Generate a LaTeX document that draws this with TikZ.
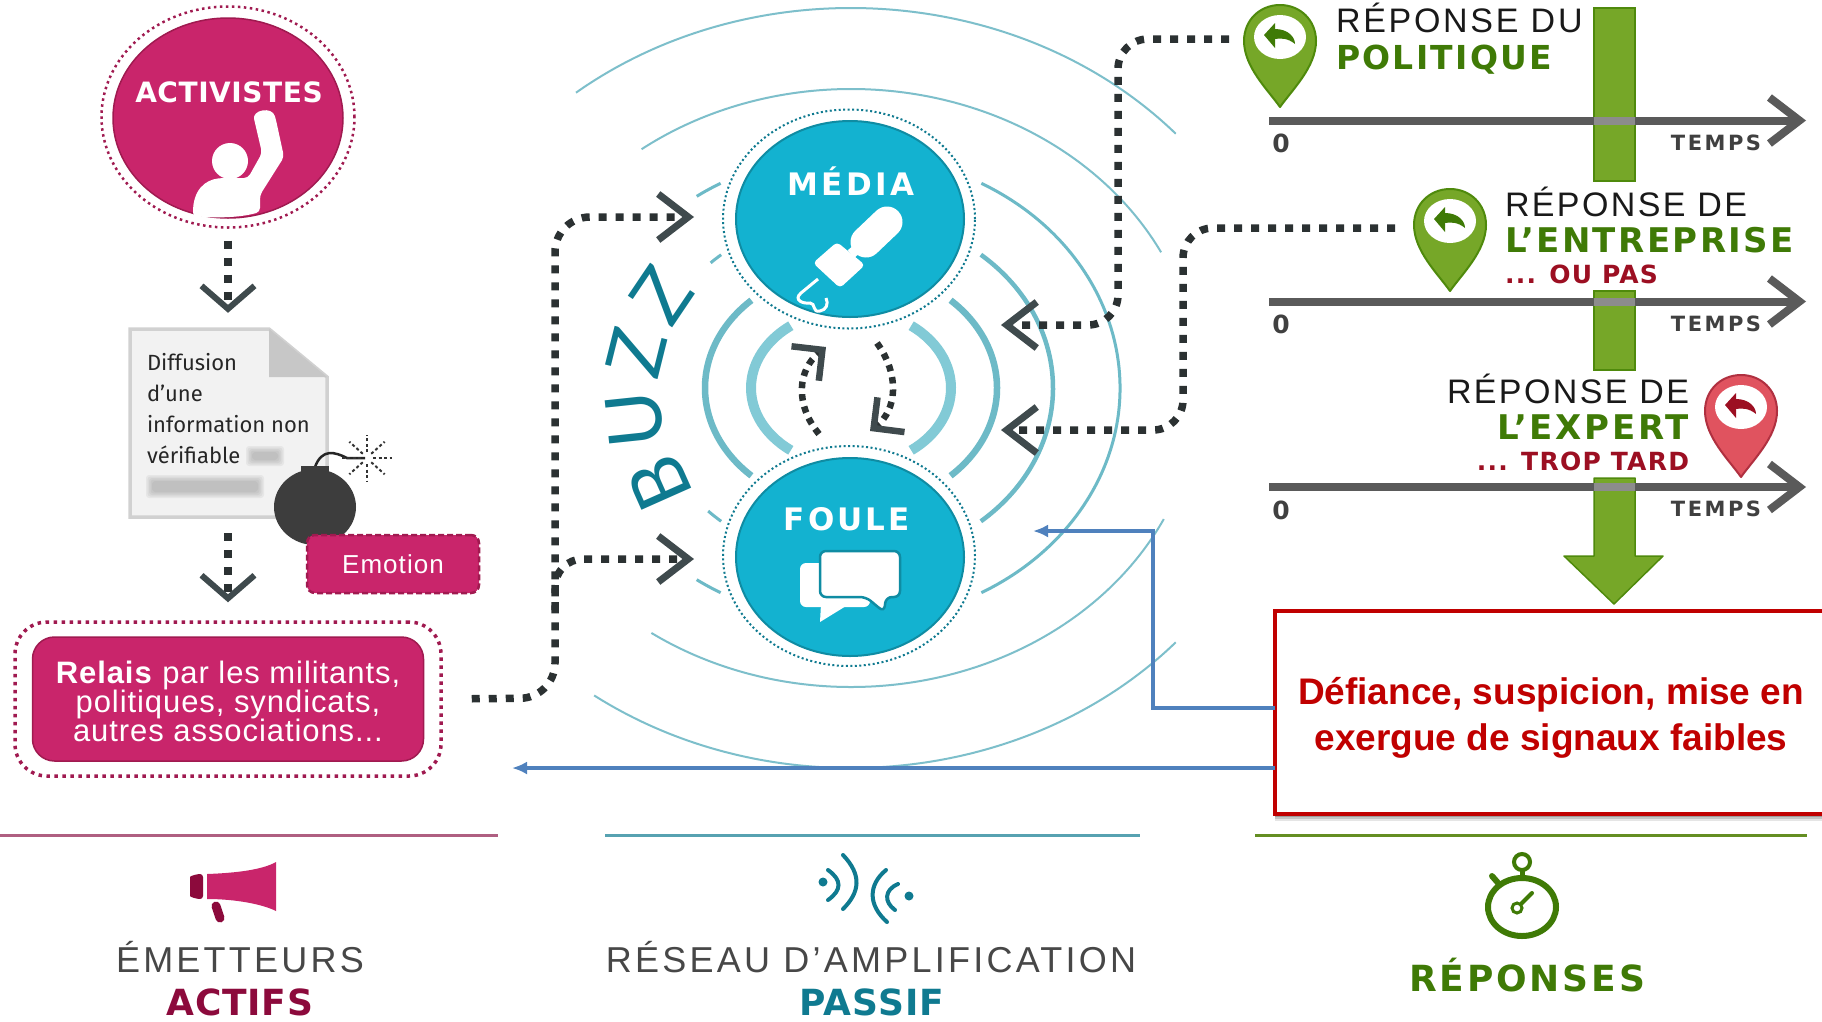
\documentclass[tikz,border=0pt]{standalone}
\usepackage{fontspec}
\setmainfont{Liberation Sans}
\newfontfamily\dvb{DejaVu Sans}
\newfontfamily\lato{Lato}
\newfontfamily\fira{Fira Sans}
\usetikzlibrary{shapes.geometric,arrows.meta,calc}
\definecolor{mag}{HTML}{C9256B}
\definecolor{magd}{HTML}{A01A50}
\definecolor{magt}{HTML}{8C0A3C}
\definecolor{blu}{HTML}{13B2D0}
\definecolor{blud}{HTML}{0F8CA3}
\definecolor{tealt}{HTML}{0F7A90}
\definecolor{arc1}{HTML}{82CAD6}
\definecolor{arc2}{HTML}{6DBAC7}
\definecolor{arc3}{HTML}{7DBFCB}
\definecolor{chevc}{HTML}{3F4A4D}
\definecolor{dotc}{HTML}{2B3132}
\definecolor{gre}{HTML}{76A728}
\definecolor{gred}{HTML}{4F8A0C}
\definecolor{gret}{HTML}{3F7A06}
\definecolor{redp}{HTML}{E0535F}
\definecolor{redd}{HTML}{B03040}
\definecolor{redt}{HTML}{9C0F22}
\definecolor{axisc}{HTML}{5A5A5A}
\definecolor{boxr}{HTML}{C00000}
\definecolor{arrb}{HTML}{4F81BD}
\newcommand\sized[1]{\fontsize{#1}{#1}\selectfont}
\newcommand\lsp[1]{\addfontfeature{LetterSpace=#1}}
\newcommand\wide[1]{\dvb\bfseries\sized{#1}}
% reply pin: centre x, top y, fill, border, arrow colour
\newcommand\mypin[5]{%
 \begin{scope}[shift={(#1,#2)}]
  \draw[fill=#3,draw=#4,line width=2pt,line join=round]
    (0,102) .. controls (-12,85) and (-36,62) .. (-36,36)
    .. controls (-36,15) and (-20,0) .. (0,0)
    .. controls (20,0) and (36,15) .. (36,36)
    .. controls (36,62) and (12,85) .. (0,102) -- cycle;
  \fill[white] (0,32) ellipse [x radius=26,y radius=22];
  \fill[#5,shift={(0,32)}] (-16,-2) -- (-5,-14) -- (-5,-8)
    .. controls (8,-8) and (15,0) .. (15,7)
    .. controls (8,1) and (0,1) .. (-5,2) -- (-5,11) -- cycle;
 \end{scope}}
% time axis: y
\newcommand\myaxis[2]{%
  \draw[axisline,-{Straight Barb[length=30pt,width=46pt,line width=8pt,color=axisc]}] (ax#2s) -- (ax#2e);
  \draw[line width=8pt,color=black!45] (1594,#1) -- (1635,#1);
  \node[axlab,anchor=center] (zero#2) at (1281,#1+23) {\wide{25}0};
  \node[axlab,anchor=base] (temps#2) at (1716,#1+29.5) {\wide{21}\lsp{12}TEMPS};}
\newcommand\blurbar[4]{%
  \foreach \e in {0,1.5,3,4.5,6}
   \fill[black!50,opacity=.10,rounded corners=3pt] (#1-\e,#2-\e) rectangle (#3+\e,#4+\e);}
\tikzset{
  dotline/.style={line width=7.5pt,color=dotc,dash pattern=on 8pt off 9pt},
  chevH/.tip={Straight Barb[length=30pt,width=46pt,line width=7pt,color=chevc]},
  chevV/.tip={Straight Barb[length=23pt,width=53pt,line width=6pt,color=chevc]},
  chevS/.tip={Straight Barb[length=22pt,width=44pt,line width=6.5pt,color=chevc]},
  axisline/.style={line width=8pt,color=axisc},
  axlab/.style={inner sep=0pt,text=black!75},
  ell/.style={ellipse,inner sep=0pt,outer sep=0pt},
  thinarc/.style={color=arc3,line width=2pt},
  txt/.style={inner sep=0pt,outer sep=0pt},
  blueline/.style={color=arrb,line width=4pt,-{Latex[length=15pt,width=13pt]}},
  grbar/.style={fill=gre,draw=gred,line width=1.5pt},
  rep/.style={txt,text=black!90},
  grt/.style={txt,text=gret},
  rdt/.style={txt,text=redt},
}
\begin{document}
\begin{tikzpicture}[x=1pt,y=-1pt]
\useasboundingbox (0,0) rectangle (1822,1021);
\clip (0,0) rectangle (1822,1021);
\fill[white] (0,0) rectangle (1822,1021);

% --- concentric arcs
\begin{scope}[shift={(851,388)}]
 \draw[thinarc] (-127:348 and 299) arc[start angle=-127,end angle=-27,x radius=348,y radius=299];
 \draw[thinarc] (26:348 and 299) arc[start angle=26,end angle=125,x radius=348,y radius=299];
 \draw[thinarc] (-129:437 and 380) arc[start angle=-129,end angle=-42,x radius=437,y radius=380];
 \draw[thinarc] (42:437 and 380) arc[start angle=42,end angle=126,x radius=437,y radius=380];
 \draw[color=arc2,line width=3pt] (-61:269 and 234) arc[start angle=-61,end angle=61,x radius=269,y radius=234];
 \draw[color=arc2,line width=3pt] (-125:269 and 234) arc[start angle=-125,end angle=-119,x radius=269,y radius=234];
 \draw[color=arc2,line width=3pt] (119:269 and 234) arc[start angle=119,end angle=125,x radius=269,y radius=234];
 \draw[color=arc2,line width=4.5pt] (-50:202 and 174) arc[start angle=-50,end angle=50,x radius=202,y radius=174];
 \draw[color=arc2,line width=3pt] (-134:202 and 174) arc[start angle=-134,end angle=-130,x radius=202,y radius=174];
 \draw[color=arc2,line width=3pt] (130:202 and 174) arc[start angle=130,end angle=135,x radius=202,y radius=174];
 \draw[color=arc2,line width=6.5pt] (-47:146 and 120) arc[start angle=-47,end angle=47,x radius=146,y radius=120];
 \draw[color=arc2,line width=6.5pt] (133:146 and 120) arc[start angle=133,end angle=227,x radius=146,y radius=120];
 \draw[color=arc1,line width=10pt] (-53:100 and 78) arc[start angle=-53,end angle=53,x radius=100,y radius=78];
 \draw[color=arc1,line width=10pt] (127:100 and 78) arc[start angle=127,end angle=233,x radius=100,y radius=78];
\end{scope}

% --- BUZZ
\node[txt,text=tealt,rotate=114] (bz1) at (660,483) {\lato\sized{76}B};
\node[txt,text=tealt,rotate=96] (bz2) at (635,420) {\lato\sized{76}U};
\node[txt,text=tealt,rotate=76] (bz3) at (637,353) {\lato\sized{76}Z};
\node[txt,text=tealt,rotate=56] (bz4) at (662,295) {\lato\sized{76}Z};

% --- Left column
\node[ell,minimum width=253pt,minimum height=221pt,draw=magd,line width=2.5pt,dash pattern=on 2.5pt off 3.5pt] (actout) at (228,117) {};
\node[ell,minimum width=230pt,minimum height=200pt,fill=mag,draw=magd,line width=1.5pt] (act) at (228,118) {};
\node[txt,text=white] (acttxt) at (229,92) {\wide{28}\lsp{2}ACTIVISTES};
\fill[white] (230,161) circle [radius=18];
\fill[white,rounded corners=4pt] (193,216) .. controls (193,190) and (205,180) .. (222,178) -- (248,178) -- (262,153) -- (255,123) .. controls (252,110) and (272,106) .. (276,120) -- (284,157) -- (260,195) -- (260,212) .. controls (238,218) and (215,218) .. (193,216) -- cycle;

\draw[fill=black!5,draw=black!18,line width=3.5pt] (130,329) -- (269,329) -- (327,377) -- (327,517) -- (130,517) -- cycle;
\fill[black!22] (269,329) -- (327,377) -- (269,377) -- cycle;
\node[minimum width=197pt,minimum height=188pt,inner sep=0pt] (doc) at (228,423) {};
\node[txt,anchor=base west,text=black!85] (d1) at (147,370) {\fira\sized{22}Diffusion};
\node[txt,anchor=base west,text=black!85] (d2) at (147,401) {\fira\sized{22}d’une};
\node[txt,anchor=base west,text=black!85] (d3) at (147,432) {\fira\sized{22}information non};
\node[txt,anchor=base west,text=black!85] (d4) at (147,463) {\fira\sized{22}vérifiable};
\blurbar{252}{452}{278}{460}
\blurbar{152}{481}{258}{492}

% bomb
\draw[color=black!85,line width=2.5pt] (315,467) .. controls (322,448) and (335,452) .. (347,458) -- (365,458);
\foreach \a in {0,45,...,315}
  \draw[color=black!80,line width=2pt,dash pattern=on 3pt off 2.5pt] ($(367,458)+(\a:6 and 6)$) -- ($(367,458)+(\a:25 and 23)$);
\fill[black!76] (301,466) rectangle (329,482);
\fill[black!76] (315,507) ellipse [x radius=41,y radius=38];
\node[minimum width=172pt,minimum height=58pt,fill=mag,draw=magd,line width=2.5pt,dash pattern=on 6pt off 3pt,rounded corners=8pt,inner sep=0pt,text=white] (emo) at (393,564) {\sized{26}\lsp{4}Emotion};

\node[minimum width=426pt,minimum height=154pt,draw=magd,line width=3.5pt,dash pattern=on 3.5pt off 4.5pt,rounded corners=32pt,inner sep=0pt] (relout) at (228,699) {};
\node[minimum width=391pt,minimum height=124pt,fill=mag,draw=magd,line width=1.5pt,rounded corners=22pt,inner sep=0pt] (rel) at (228,699) {};
\node[txt,text=white,align=center,font=\fontsize{31}{29}\selectfont\addfontfeature{LetterSpace=3}] (reltxt) at (228,701) {\textbf{Relais} par les militants,\\politiques, syndicats,\\autres associations...};

\draw[dotline,-chevV,shorten <=13pt,shorten >=16pt] (actout.south) -- (doc.north);
\draw[dotline,-chevV,shorten <=16pt,shorten >=18pt] (doc.south) -- (relout.north);

% --- Centre circles
\node[ell,minimum width=252pt,minimum height=219pt,fill=white,draw=tealt,line width=2pt,dash pattern=on 2pt off 2.5pt] (medout) at (849,219) {};
\node[ell,minimum width=228pt,minimum height=196pt,fill=blu,draw=blud,line width=2pt] (med) at (850,219) {};
\node[ell,minimum width=252pt,minimum height=220pt,fill=white,draw=tealt,line width=2pt,dash pattern=on 2pt off 2.5pt] (foulout) at (849,556) {};
\node[ell,minimum width=228pt,minimum height=198pt,fill=blu,draw=blud,line width=2pt] (foul) at (850,557) {};
\node[txt,text=white] (medtxt) at (851,181) {\wide{31}\lsp{11}MÉDIA};
\node[txt,text=white] (foultxt) at (847,519) {\wide{31}\lsp{10}FOULE};
% mic
\draw[white,line width=31pt,line cap=round] (866,242) -- (887,222);
\draw[white,line width=10pt] (851,254) -- (857,249);
\fill[white,rounded corners=4pt] (813,263) -- (837,242) -- (865,265) -- (840,288) -- cycle;
\draw[white,line width=3pt] (818,279) -- (801,293) .. controls (793,300) and (803,304) .. (810,303) .. controls (816,303) and (812,313) .. (820,311) .. controls (826,310) and (829,304) .. (826,298);
% chat
\fill[white,rounded corners=6pt] (800,563) rectangle (870,607);
\fill[white] (821,604) -- (820,622) -- (846,606) -- cycle;
\draw[fill=white,draw=blud,line width=2.5pt,rounded corners=6pt] (820,551) -- (900,551) -- (900,597) -- (886,597) -- (884,612) -- (866,597) -- (820,597) -- cycle;

% inner loop arrows
\coordinate (lp1s) at (819,434);
\coordinate (lp1e) at (826,347);
\coordinate (lp2s) at (877,343);
\coordinate (lp2e) at (870,431);
\draw[color=dotc,line width=6.5pt,dash pattern=on 6.5pt off 6pt,-chevS] (lp1s) .. controls (795,405) and (797,370) .. (lp1e);
\draw[color=dotc,line width=6.5pt,dash pattern=on 6.5pt off 6pt,-chevS] (lp2s) .. controls (900,375) and (897,410) .. (lp2e);

% --- Dotted connectors
\coordinate (c1a) at (555,698);
\coordinate (c1b) at (555,217);
\coordinate (c1e) at (694,217);
\coordinate (c2s) at (555,610);
\coordinate (c2b) at (555,559);
\coordinate (c2e) at (694,559);
\draw[dotline,-chevH,rounded corners=35pt,shorten <=29pt] (relout.east) -- (c1a) -- (c1b) -- (c1e);
\draw[dotline,-chevH,rounded corners=28pt] (c2s) -- (c2b) -- (c2e);
\coordinate (r1s) at (1229,39);
\coordinate (r1a) at (1118,39);
\coordinate (r1b) at (1118,325);
\coordinate (r1e) at (1001,325);
\coordinate (r2s) at (1395,228);
\coordinate (r2a) at (1183,228);
\coordinate (r2b) at (1183,430);
\coordinate (r2e) at (1001,430);
\draw[dotline,-chevH,rounded corners=30pt] (r1s) -- (r1a) -- (r1b) -- (r1e);
\draw[dotline,-chevH,rounded corners=30pt] (r2s) -- (r2a) -- (r2b) -- (r2e);

% --- Right column
\draw[grbar] (1594,8) rectangle (1635,181);
\draw[grbar] (1594,291) rectangle (1635,370);
\draw[grbar,line join=round] (1594,478) -- (1635,478) -- (1635,556) -- (1663,556) -- (1614,604) -- (1564,556) -- (1594,556) -- cycle;
\coordinate (ax1s) at (1269,120.5); \coordinate (ax1e) at (1806,120.5);
\coordinate (ax2s) at (1269,301.5); \coordinate (ax2e) at (1806,301.5);
\coordinate (ax3s) at (1269,487);   \coordinate (ax3e) at (1806,487);
\myaxis{120.5}{1}
\myaxis{301.5}{2}
\myaxis{487}{3}
\mypin{1280}{5}{gre}{gred}{gret}
\mypin{1450}{189}{gre}{gred}{gret}
\mypin{1741}{375}{redp}{redd}{redt}

\node[rep,anchor=base west] (r1) at (1336,32) {\sized{34}\lsp{8}RÉPONSE DU};
\node[grt,anchor=base west] (r1b) at (1336,69) {\wide{33}\lsp{7}POLITIQUE};
\node[rep,anchor=base west] (r2) at (1505,216) {\sized{34}\lsp{7}RÉPONSE DE};
\node[grt,anchor=base west] (r2b) at (1505,252) {\wide{34}\lsp{7}L’ENTREPRISE};
\node[rdt,anchor=base west] (r2c) at (1505,283) {\wide{25}\lsp{5}... OU PAS};
\node[rep,anchor=base east] (r3) at (1689,403) {\sized{34}\lsp{7}RÉPONSE DE};
\node[grt,anchor=base east] (r3b) at (1689,439) {\wide{34}\lsp{8}L’EXPERT};
\node[rdt,anchor=base east] (r3c) at (1689,470) {\wide{25}\lsp{5}... TROP TARD};

% --- Box
\foreach \e/\o in {6/.10,4/.14,2/.2}
  \fill[black,opacity=\o] (1275,616) rectangle (1830,815+\e);
\node[minimum width=555pt,minimum height=203pt,fill=white,draw=boxr,line width=4.5pt,inner sep=0pt] (box) at (1552.5,712.5) {};
\node[txt,text=boxr,align=center,font=\fontsize{37}{46}\selectfont\bfseries] (boxtxt) at (1551,718) {Défiance, suspicion, mise en\\exergue de signaux faibles};
\coordinate (b1a) at (1153,708);
\coordinate (b1b) at (1153,531);
\coordinate (b1e) at (1033,531);
\coordinate (b1s) at (1275,708);
\coordinate (b2s) at (1275,768);
\coordinate (b2e) at (512,768);
\draw[blueline] (b1s) -- (b1a) -- (b1b) -- (b1e);
\draw[blueline] (b2s) -- (b2e);

% --- Bottom legends
\draw[color=mag!70!black!70,line width=3pt] (0,835) -- (498,835);
\draw[color=tealt!70,line width=3pt] (605,835) -- (1140,835);
\draw[color=gre!85!black,line width=3pt] (1255,835) -- (1807,835);
% megaphone
\fill[mag] (207,874) .. controls (235,873) and (262,870) .. (276,862) -- (276,911) .. controls (262,904) and (235,899) .. (207,899) -- cycle;
\fill[magt,rounded corners=3pt] (190,880) .. controls (190,876) and (197,874) .. (203,874) -- (203,899) .. controls (197,899) and (190,897) .. (190,893) -- cycle;
\draw[magt,line width=9pt,line cap=round] (216,906) -- (220,918);
\node[txt,anchor=base,text=black!72] (em) at (240,972) {\sized{36}\lsp{9}ÉMETTEURS};
\node[txt,anchor=base,text=magt] (ac) at (240,1015) {\wide{36}\lsp{2}ACTIFS};
% waves
\fill[tealt] (823,882) circle [radius=4.5];
\fill[tealt] (909,896) circle [radius=4.5];
\draw[tealt,line width=4pt,line cap=round] (828,870) .. controls (842,880) and (842,890) .. (828,900);
\draw[tealt,line width=4pt,line cap=round] (843,855) .. controls (862,875) and (860,892) .. (843,909);
\draw[tealt,line width=4pt,line cap=round] (898,884) .. controls (884,890) and (884,902) .. (895,910);
\draw[tealt,line width=4pt,line cap=round] (886,870) .. controls (868,885) and (868,905) .. (887,922);
\node[txt,anchor=base,text=black!72] (re) at (871,972) {\sized{36}\lsp{9}RÉSEAU D’AMPLIFICATION};
\node[txt,anchor=base,text=tealt] (pa) at (872,1015) {\wide{36}\lsp{3}PASSIF};
% stopwatch
\draw[gret,line width=6pt] (1522,907) ellipse [x radius=34,y radius=29];
\draw[gret,line width=4pt] (1522,862) circle [radius=8];
\draw[gret,line width=5pt] (1522,870) -- (1522,878);
\draw[gret,line width=6pt,line cap=round] (1492,876) -- (1499,884);
\draw[gret,line width=3pt] (1517,908) circle [radius=5];
\draw[gret,line width=4pt,line cap=round] (1521,904) -- (1532,893);
\node[txt,anchor=base,text=gret] (rps) at (1527,991) {\wide{36}\lsp{8}RÉPONSES};
\end{tikzpicture}
\end{document}
